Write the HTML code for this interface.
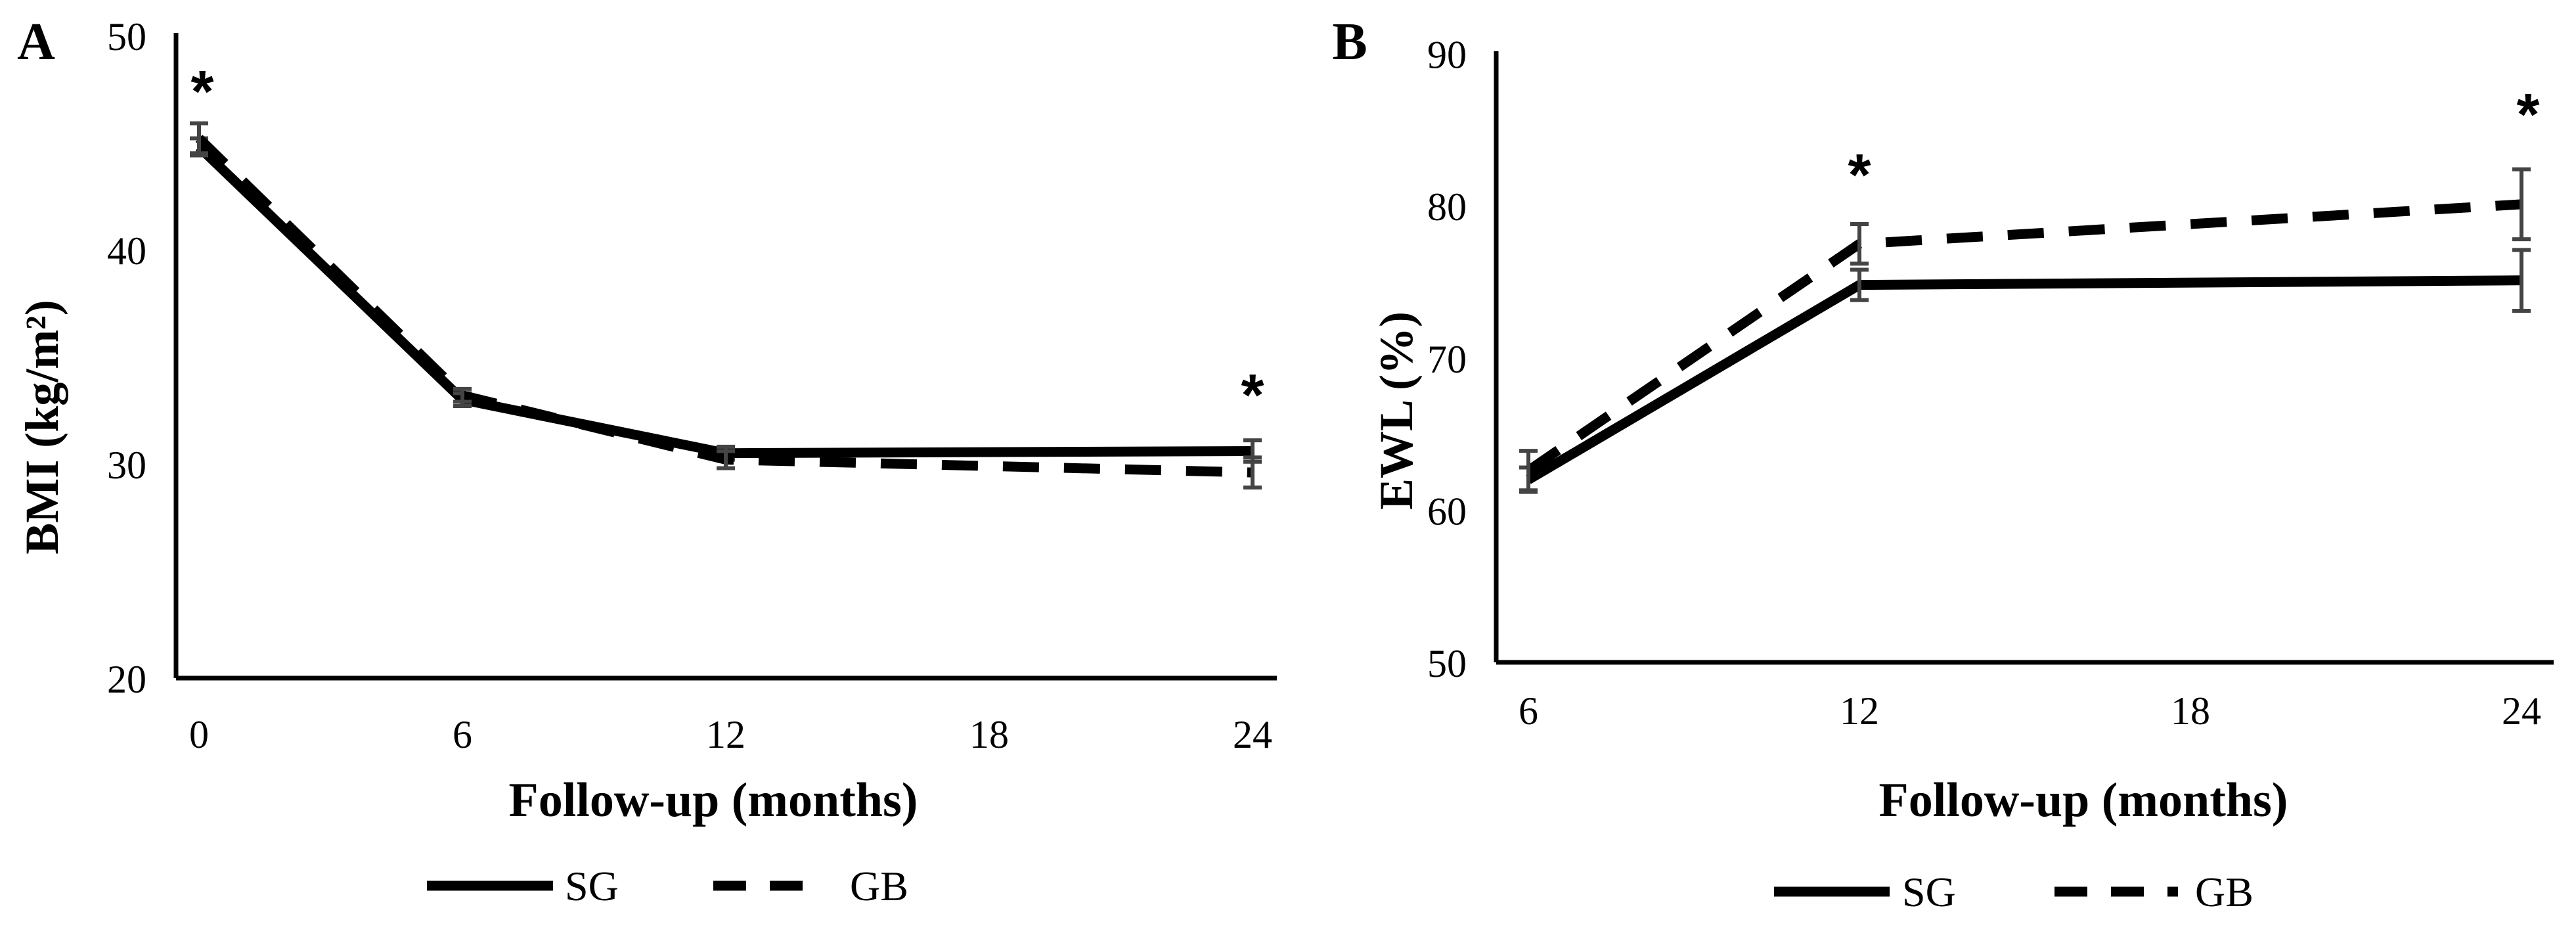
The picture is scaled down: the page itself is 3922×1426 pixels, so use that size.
<!DOCTYPE html>
<html><head><meta charset="utf-8"><style>
html,body{margin:0;padding:0;background:#fff;}
svg{display:block;font-family:"Liberation Serif",serif;}
</style></head><body>
<svg width="3922" height="1426" viewBox="0 0 3922 1426">
<g id="A"></g>
<g id="B"></g>
</svg>
<script>
const aMonths=[0,6,12,24];
const aSG=[44.8,33.0,30.5,30.6];
const aGB=[45.2,33.2,30.2,29.6];
const aSGerr=[0.4,0.3,0.3,0.5];
const aGBerr=[0.7,0.3,0.4,0.7];
const aYTicks=[20,30,40,50];
const aXTicks=[0,6,12,18,24];
const aStars=[0,24];
const bMonths=[6,12,24];
const bSG=[62.0,74.8,75.1];
const bGB=[62.6,77.5,80.1];
const bSGerr=[0.8,1.0,2.0];
const bGBerr=[1.3,1.3,2.3];
const bYTicks=[50,60,70,80,90];
const bXTicks=[6,12,18,24];
const bStars=[12,24];
const NS='http://www.w3.org/2000/svg';
function mk(p,t,a,txt){const e=document.createElementNS(NS,t);for(const k in a)e.setAttribute(k,a[k]);if(txt!==undefined)e.textContent=txt;p.appendChild(e);return e;}
function panel(g,cfg){
 const X=m=>cfg.x0+(m-cfg.m0)*cfg.dx;
 const Y=v=>cfg.y0-(v-cfg.v0)*cfg.dy;
 let e=mk(g,'line',{x1:cfg.ax,y1:cfg.top,x2:cfg.ax,y2:Y(cfg.v0),stroke:'#000','stroke-width':7});
 
 e=mk(g,'line',{x1:cfg.ax,y1:Y(cfg.v0),x2:cfg.right,y2:Y(cfg.v0),stroke:'#000','stroke-width':7});
 
 cfg.yt.forEach(v=>{e=mk(g,'text',{x:cfg.ax-45,y:Y(v)+22,'text-anchor':'end','font-size':60},v);
  });
 cfg.xt.forEach(m=>{e=mk(g,'text',{x:X(m),y:cfg.xty,'text-anchor':'middle','font-size':60},m);
  });
 function series(vals,err,dash,name){
  const pts=cfg.months.map((m,i)=>X(m)+','+Y(vals[i])).join(' ');
  const a={points:pts,fill:'none',stroke:'#000','stroke-width':15,'stroke-linejoin':'round'};
  if(dash)a['stroke-dasharray']='55 38';
  e=mk(g,'polyline',a);
  cfg.months.forEach((m,i)=>{const x=X(m),y1=Y(vals[i]+err[i]),y2=Y(vals[i]-err[i]);
   const eg=mk(g,'g',{stroke:'#444','stroke-width':6});
   
   mk(eg,'line',{x1:x,y1:y1,x2:x,y2:y2});mk(eg,'line',{x1:x-14,y1:y1,x2:x+14,y2:y1});mk(eg,'line',{x1:x-14,y1:y2,x2:x+14,y2:y2});});
 }
 series(cfg.sg,cfg.sgE,false,'sg');series(cfg.gb,cfg.gbE,true,'gb');
 cfg.stars.forEach((m,i)=>{e=mk(g,'text',{x:X(m)+cfg.starDx[i],y:cfg.starY[i]+40,'text-anchor':'middle','font-size':90,'font-weight':'bold','font-family':'Liberation Sans, sans-serif'},'*');
  });
 e=mk(g,'text',{x:cfg.lx,y:cfg.ly,'text-anchor':'middle','font-size':cfg.lfs,'font-weight':'bold',transform:`rotate(-90 ${cfg.lx} ${cfg.ly})`},cfg.ylab);
 
 e=mk(g,'text',{x:cfg.tx,y:1242,'text-anchor':'middle','font-size':74,'font-weight':'bold'},'Follow-up (months)');
 
 e=mk(g,'text',{x:cfg.px,y:90,'text-anchor':'middle','font-size':80,'font-weight':'bold'},cfg.plab);
 
 const L=cfg.leg,ly=cfg.legY;
 const lg=mk(g,'g',{});
 e=mk(lg,'line',{x1:L[0],y1:ly,x2:L[1],y2:ly,stroke:'#000','stroke-width':15});
 
 e=mk(lg,'text',{x:L[2],y:ly+22,'font-size':64},'SG');
 
 e=mk(lg,'line',{x1:L[3],y1:ly,x2:L[4],y2:ly,stroke:'#000','stroke-width':15,'stroke-dasharray':'50 36'});
 
 e=mk(lg,'text',{x:L[5],y:ly+22,'font-size':64},'GB');
 
}
panel(document.getElementById('A'),{x0:303,m0:0,dx:401/6,y0:1032,v0:20,dy:32.6,ax:268,top:50,right:1944,
 yt:aYTicks,xt:aXTicks,xty:1138,months:aMonths,sg:aSG,gb:aGB,sgE:aSGerr,gbE:aGBerr,stars:aStars,starDx:[5,0],starY:[130,592],
 lx:88,ly:650,lfs:72,ylab:'BMI (kg/m²)',tx:1086,px:55,plab:'A',leg:[650,842,860,1086,1256,1294],legY:1348});
panel(document.getElementById('B'),{x0:2327,m0:6,dx:504/6,y0:1008,v0:50,dy:23.16,ax:2278,top:78,right:3888,
 yt:bYTicks,xt:bXTicks,xty:1102,months:bMonths,sg:bSG,gb:bGB,sgE:bSGerr,gbE:bGBerr,stars:bStars,starDx:[0,10],starY:[257,165],
 lx:2150,ly:625,lfs:72,ylab:'EWL (%)',tx:3172,px:2055,plab:'B',leg:[2701,2877,2896,3128,3316,3342],legY:1357});
</script>
</body></html>
